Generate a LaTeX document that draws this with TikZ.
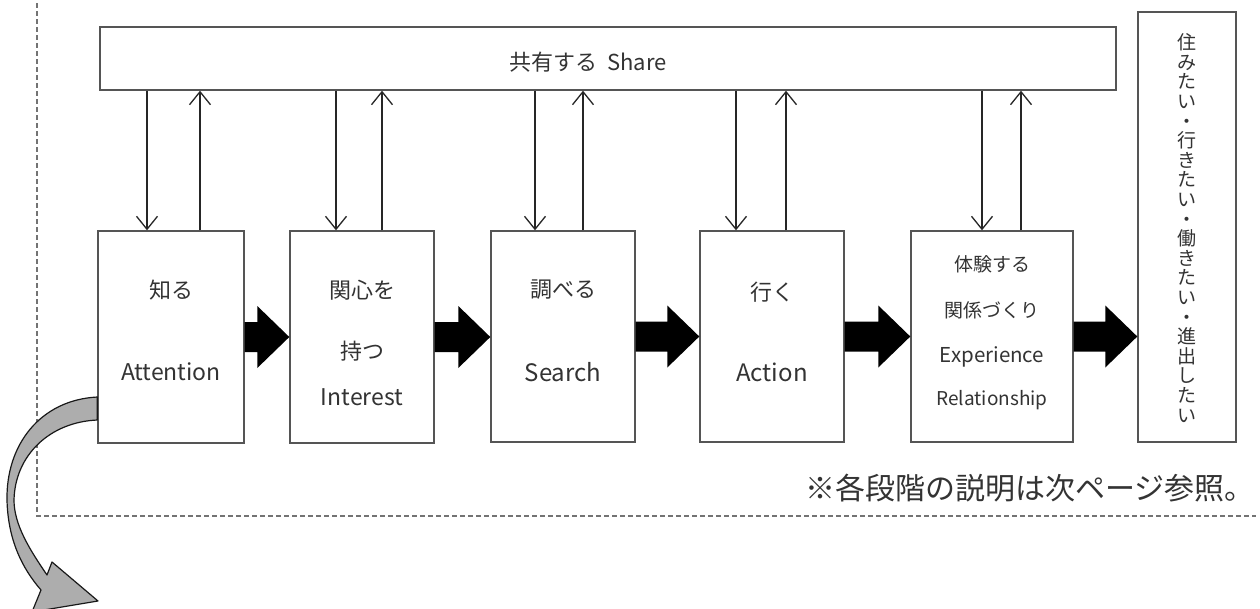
\documentclass[tikz,border=0pt]{standalone}
\usepackage{fontspec}
\setmainfont{Noto Sans CJK JP}
\usetikzlibrary{calc,arrows.meta}
\definecolor{txt}{HTML}{333333}
\definecolor{edge}{HTML}{555555}
\tikzset{
  box/.style={draw=edge, line width=1.4pt, fill=white, inner sep=0pt},
  lbl/.style={text=txt, inner sep=0pt, font=\fontsize{22}{26}\selectfont},
  lblen/.style={text=txt, inner sep=0pt, font=\fontsize{23}{27}\selectfont},
  thinarr/.style={draw=black!85, line width=1.3pt, -{Straight Barb[length=13pt,width=21pt,line width=1.3pt]}},
  fatfill/.style={fill=black},
  frame/.style={draw=black!55, line width=1.3pt, dash pattern=on 5pt off 3pt},
  curvearrow/.style={fill=black!32, draw=black!90, line width=1.2pt, line join=round}
}
\newcommand{\fatarrow}[2]{%
  \coordinate (tip) at (#2.west |- #1.east);
  \fill[fatfill] ($(#1.east)+(0,-15)$) -- ($(tip)+(-32,-15)$) -- ($(tip)+(-32,-31)$) -- (tip)
    -- ($(tip)+(-32,31)$) -- ($(tip)+(-32,15)$) -- ($(#1.east)+(0,15)$) -- cycle;}
\begin{document}
\begin{tikzpicture}[x=1pt,y=-1pt]
\useasboundingbox (0,0) rectangle (1260,608);
% dashed frame
\coordinate (ftop) at (37,-5);
\coordinate (fcorner) at (37,516);
\coordinate (fend) at (1256,516);
\draw[frame] (ftop) -- (fcorner) -- (fend);
% share box
\node[box, minimum width=1016pt, minimum height=63pt] (share) at (608,58.5) {};
\node[lbl, anchor=base] (sharetxt) at (588,70) {共有する\hspace{10pt}Share};
% stage boxes
\node[box, minimum width=146pt, minimum height=212pt] (b1) at (171,337) {};
\node[box, minimum width=144pt, minimum height=212pt] (b2) at (362,337) {};
\node[box, minimum width=144pt, minimum height=211pt] (b3) at (563,336.5) {};
\node[box, minimum width=144pt, minimum height=211pt] (b4) at (772,336.5) {};
\node[box, minimum width=162pt, minimum height=211pt] (b5) at (992,336.5) {};
\node[box, minimum width=98pt, minimum height=430pt] (b6) at (1187,227) {};
% texts
\node[lbl] (t1a) at (171,290) {知る};
\node[lblen] (t1b) at (171,372) {Attention};
\node[lbl] (t2a) at (362,290) {関心を};
\node[lbl] (t2b) at (362,351) {持つ};
\node[lblen] (t2c) at (362,397) {Interest};
\node[lbl] (t3a) at (563,290) {調べる};
\node[lblen, font=\fontsize{24}{28}\selectfont] (t3b) at (563,372) {Search};
\node[lbl] (t4a) at (772,292) {行く};
\node[lblen, font=\fontsize{24}{28}\selectfont] (t4b) at (772,372) {Action};
\node[lbl, font=\fontsize{19}{22}\selectfont] (t5a) at (992,264) {体験する};
\node[lbl, font=\fontsize{19}{22}\selectfont] (t5b) at (992,310) {関係づくり};
\node[lblen, font=\fontsize{20.5}{24}\selectfont] (t5c) at (992,357) {Experience};
\node[lblen, font=\fontsize{19}{22}\selectfont] (t5d) at (992,400) {Relationship};
\node[lbl, align=center, font=\fontsize{19}{19.6}\selectfont] (t6) at (1187,228)
 {住\\み\\た\\い\\・\\行\\き\\た\\い\\・\\働\\き\\た\\い\\・\\進\\出\\し\\た\\い};
\node[lbl, font=\fontsize{30}{34}\selectfont] (note) at (1030,488) {※各段階の説明は次ページ参照。};
% thin arrows
\coordinate (d1) at (147,231); \coordinate (u1) at (200,231);
\coordinate (d2) at (336,231); \coordinate (u2) at (382,231);
\coordinate (d3) at (535,231); \coordinate (u3) at (583,231);
\coordinate (d4) at (736,231); \coordinate (u4) at (786,231);
\coordinate (d5) at (982,231); \coordinate (u5) at (1021,231);
\foreach \i in {1,...,5}{
  \draw[thinarr] (d\i |- share.south) -- (d\i |- b\i.north);
  \draw[thinarr] (u\i |- b\i.north) -- (u\i |- share.south);
}
% fat arrows
\fatarrow{b1}{b2}
\fatarrow{b2}{b3}
\fatarrow{b3}{b4}
\fatarrow{b4}{b5}
\fatarrow{b5}{b6}
% curved arrow
\coordinate (cs1) at (b1.west |- 0,397);
\coordinate (cs2) at (b1.west |- 0,420);
\draw[curvearrow] (cs1) .. controls (40,400) and (6,445) .. (7,500)
  .. controls (8,540) and (22,568) .. (41,590) -- (32,612) -- (98,601) -- (52,562) -- (47,575)
  .. controls (30,550) and (14,525) .. (14,500)
  .. controls (15,455) and (50,422) .. (cs2) -- cycle;
\end{tikzpicture}
\end{document}
